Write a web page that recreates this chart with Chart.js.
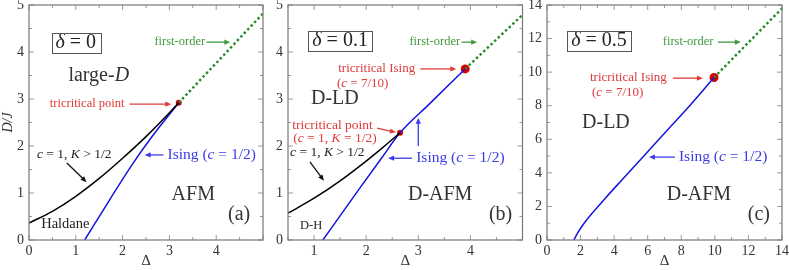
<!DOCTYPE html>
<html>
<head>
<meta charset="utf-8">
<script src="https://cdn.jsdelivr.net/npm/chart.js@4.4.1/dist/chart.umd.min.js"></script>
<style>
  body { margin: 0; background: #fff; }
  .panel { position: absolute; top: 0; height: 270px; }
</style>
</head>
<body>
<div class="panel" style="left:0px"><canvas id="chartA" width="267" height="270"></canvas></div>
<div class="panel" style="left:267px"><canvas id="chartB" width="260" height="270"></canvas></div>
<div class="panel" style="left:527px"><canvas id="chartC" width="262" height="270"></canvas></div>
<script>
// ---- panel (a): delta = 0 ----
const aKtX = [0, 0.5, 1, 1.5, 2, 2.5, 2.9, 3.2];
const aKtY = [0.36, 0.61, 0.93, 1.31, 1.74, 2.2, 2.6, 2.92];
const aIsingX = [1.19, 1.72, 2.2, 2.65, 3.2];
const aIsingY = [0, 0.85, 1.6, 2.23, 2.92];
const aFirstX = [3.2, 5];
const aFirstY = [2.92, 4.82];
const aCritX = [3.2];
const aCritY = [2.92];
const aCritR = [3];

// ---- panel (b): delta = 0.1 ----
const bKtX = [0.5, 1, 1.5, 2, 2.3, 2.65];
const bKtY = [0.57, 0.89, 1.26, 1.68, 1.95, 2.28];
const bIsingX = [1.17, 1.85, 2.3, 2.65, 3.2, 3.9];
const bIsingY = [0, 1.06, 1.75, 2.28, 2.88, 3.64];
const bFirstX = [3.9, 5];
const bFirstY = [3.64, 4.79];
const bCritX = [2.65, 3.9];
const bCritY = [2.28, 3.64];
const bCritR = [3, 4.5];

// ---- panel (c): delta = 0.5 ----
const cIsingX = [1.6, 1.8, 2.2, 2.8, 3.5, 4.5, 5.7, 7, 8.5, 9.95];
const cIsingY = [0, 0.38, 0.98, 1.72, 2.52, 3.62, 4.93, 6.36, 8.0, 9.68];
const cFirstX = [9.95, 14];
const cFirstY = [9.68, 13.8];
const cCritX = [9.95];
const cCritY = [9.68];
const cCritR = [4.5];

// tick labels
const aXLabels = [0, 1, 2, 3, 4];
const bXLabels = [1, 2, 3, 4];
const abYLabels = [0, 1, 2, 3, 4, 5];
const cLabels = [0, 2, 4, 6, 8, 10, 12, 14];

const fam = '"Liberation Serif", "DejaVu Serif", serif';
const GREEN = '#1f8a1f', GREEN_T = '#409a40';
const RED = '#d40000', RED_T = '#e03a3a';
const BLUE = '#1414e0', BLUE_T = '#3b3be6';

function pts(xs, ys) {
    return xs.map((x, i) => ({ x: x, y: ys[i] }));
}

function curve(xs, ys, color) {
    return { data: pts(xs, ys), borderColor: color, borderWidth: 1.5, pointRadius: 0,
             cubicInterpolationMode: 'monotone', fill: false };
}

// text with *italic* parts
function richText(ctx, str, x, y, size, color, align) {
    const parts = str.split('*');
    const fonts = parts.map((p, i) => (i % 2 ? 'italic ' : '') + size + 'px ' + fam);
    const widths = parts.map((p, i) => { ctx.font = fonts[i]; return ctx.measureText(p).width; });
    const total = widths.reduce((a, b) => a + b, 0);
    const left = align === 'center' ? x - total / 2 : align === 'right' ? x - total : x;
    let cx = left;
    ctx.fillStyle = color;
    ctx.textBaseline = 'middle';
    ctx.textAlign = 'left';
    parts.forEach((p, i) => { ctx.font = fonts[i]; ctx.fillText(p, cx, y); cx += widths[i]; });
    return { left: left, width: total };
}

function arrow(ctx, x1, y1, x2, y2, color) {
    const ang = Math.atan2(y2 - y1, x2 - x1);
    const hl = 6, hw = 2.6;
    ctx.strokeStyle = color;
    ctx.fillStyle = color;
    ctx.lineWidth = 1.3;
    ctx.beginPath();
    ctx.moveTo(x1, y1);
    ctx.lineTo(x2 - Math.cos(ang) * hl * 0.8, y2 - Math.sin(ang) * hl * 0.8);
    ctx.stroke();
    ctx.beginPath();
    ctx.moveTo(x2, y2);
    ctx.lineTo(x2 - Math.cos(ang) * hl - Math.sin(ang) * hw, y2 - Math.sin(ang) * hl + Math.cos(ang) * hw);
    ctx.lineTo(x2 - Math.cos(ang) * hl + Math.sin(ang) * hw, y2 - Math.sin(ang) * hl - Math.cos(ang) * hw);
    ctx.closePath();
    ctx.fill();
}

// frame with inward ticks plus the text labels
function decor(cfg) {
    return {
        id: 'decor',
        afterDatasetsDraw(chart) {
            const ctx = chart.ctx, a = chart.chartArea;
            const xs = chart.scales.x, ys = chart.scales.y;
            ctx.save();
            ctx.strokeStyle = '#999';
            ctx.lineWidth = 1;
            const steps = (min, max, st) => {
                const out = [];
                for (let v = Math.ceil(min / st) * st; v <= max + 1e-9; v += st) out.push(v);
                return out;
            };
            steps(xs.min, xs.max, cfg.minor[0]).forEach(v => {
                const px = xs.getPixelForValue(v);
                const len = Math.abs(v / cfg.major[0] - Math.round(v / cfg.major[0])) < 1e-6 ? 5 : 3;
                ctx.beginPath();
                ctx.moveTo(px, a.bottom); ctx.lineTo(px, a.bottom - len);
                ctx.moveTo(px, a.top); ctx.lineTo(px, a.top + len);
                ctx.stroke();
            });
            steps(ys.min, ys.max, cfg.minor[1]).forEach(v => {
                const py = ys.getPixelForValue(v);
                const len = Math.abs(v / cfg.major[1] - Math.round(v / cfg.major[1])) < 1e-6 ? 5 : 3;
                ctx.beginPath();
                ctx.moveTo(a.left, py); ctx.lineTo(a.left + len, py);
                ctx.moveTo(a.right, py); ctx.lineTo(a.right - len, py);
                ctx.stroke();
            });
            ctx.strokeStyle = '#777';
            ctx.lineWidth = 1.2;
            ctx.strokeRect(a.left, a.top, a.right - a.left, a.bottom - a.top);

            cfg.arrows.forEach(r => {
                arrow(ctx, xs.getPixelForValue(r[0]), ys.getPixelForValue(r[1]),
                      xs.getPixelForValue(r[2]), ys.getPixelForValue(r[3]), r[4]);
            });
            cfg.notes.forEach(n => {
                const px = xs.getPixelForValue(n.x), py = ys.getPixelForValue(n.y);
                const box = richText(ctx, n.t, px, py, n.size, n.color, n.align);
                if (n.box) {
                    ctx.strokeStyle = '#555';
                    ctx.lineWidth = 1;
                    ctx.strokeRect(Math.round(box.left - 4) + 0.5, Math.round(py - 10) + 0.5,
                                   Math.round(box.width + 8), 20);
                }
            });
            ctx.restore();
        }
    };
}

function makeChart(id, cfg) {
    return new Chart(document.getElementById(id), {
        type: 'line',
        data: {
            datasets: [
                ...cfg.lines,
                { data: pts(cfg.first[0], cfg.first[1]), borderColor: GREEN, borderWidth: 2.4,
                  borderDash: [2.4, 2.6], pointRadius: 0, fill: false },
                { data: pts(cfg.crit[0], cfg.crit[1]), showLine: false, pointRadius: cfg.crit[2],
                  pointBackgroundColor: RED, pointBorderColor: RED, pointBorderWidth: 0 }
            ]
        },
        options: {
            responsive: false,
            animation: false,
            layout: { padding: { top: 5, right: cfg.padRight, left: 0, bottom: 0 } },
            plugins: { legend: { display: false }, tooltip: { enabled: false } },
            scales: {
                x: {
                    type: 'linear', min: cfg.xRange[0], max: cfg.xRange[1],
                    afterBuildTicks: s => { s.ticks = cfg.xLabels.map(v => ({ value: v })); },
                    afterFit: s => { s.height = 30; s.paddingLeft = 0; s.paddingRight = 0; },
                    grid: { display: false, drawTicks: false },
                    border: { display: false },
                    ticks: { font: { family: fam, size: 14 }, color: '#333', padding: 3,
                             maxRotation: 0, autoSkip: false },
                    title: { display: true, text: 'Δ', font: { family: fam, size: 15 },
                             color: '#333', padding: 0 }
                },
                y: {
                    type: 'linear', min: cfg.yRange[0], max: cfg.yRange[1],
                    afterBuildTicks: s => { s.ticks = cfg.yLabels.map(v => ({ value: v })); },
                    afterFit: s => { s.width = cfg.yWidth; s.paddingTop = 0; s.paddingBottom = 0; },
                    grid: { display: false, drawTicks: false },
                    border: { display: false },
                    ticks: { font: { family: fam, size: 14 }, color: '#333', padding: 5, autoSkip: false },
                    title: { display: !!cfg.yTitle, text: cfg.yTitle || '',
                             font: { family: fam, size: 14, style: 'italic' }, color: '#333', padding: 0 }
                }
            }
        },
        plugins: [decor(cfg)]
    });
}

makeChart('chartA', {
    xRange: [0, 5], yRange: [0, 5], xLabels: aXLabels, yLabels: abYLabels,
    major: [1, 1], minor: [0.5, 0.5], yWidth: 29, padRight: 4, yTitle: 'D/J',
    lines: [curve(aKtX, aKtY, '#000'), curve(aIsingX, aIsingY, BLUE)],
    first: [aFirstX, aFirstY], crit: [aCritX, aCritY, aCritR],
    arrows: [
        [3.79, 4.21, 4.30, 4.21, GREEN_T],
        [2.15, 2.89, 3.04, 2.89, RED_T],
        [0.81, 1.64, 1.23, 1.23, '#111'],
        [2.87, 1.81, 2.47, 1.81, BLUE_T]
    ],
    notes: [
        { x: 1.0, y: 4.2, t: '*δ* = 0', size: 20, color: '#222', align: 'center', box: true },
        { x: 1.49, y: 3.49, t: 'large-*D*', size: 20, color: '#333', align: 'center' },
        { x: 2.68, y: 4.21, t: 'first-order', size: 12.5, color: GREEN_T, align: 'left' },
        { x: 2.04, y: 2.89, t: 'tricritical point', size: 12.5, color: RED_T, align: 'right' },
        { x: 0.17, y: 1.81, t: '*c* = 1, *K* > 1/2', size: 13.5, color: '#222', align: 'left' },
        { x: 2.96, y: 1.81, t: 'Ising (*c* = 1/2)', size: 15.5, color: BLUE_T, align: 'left' },
        { x: 3.51, y: 0.96, t: 'AFM', size: 20, color: '#333', align: 'center' },
        { x: 4.49, y: 0.53, t: '(a)', size: 20, color: '#333', align: 'center' },
        { x: 0.26, y: 0.34, t: 'Haldane', size: 14.5, color: '#222', align: 'left' }
    ]
});

makeChart('chartB', {
    xRange: [0.5, 5], yRange: [0, 5], xLabels: bXLabels, yLabels: abYLabels,
    major: [1, 1], minor: [0.5, 0.5], yWidth: 21, padRight: 4,
    lines: [curve(bKtX, bKtY, '#000'), curve(bIsingX, bIsingY, BLUE)],
    first: [bFirstX, bFirstY], crit: [bCritX, bCritY, bCritR],
    arrows: [
        [3.83, 4.21, 4.13, 4.21, GREEN_T],
        [3.04, 3.64, 3.73, 3.64, RED_T],
        [2.21, 2.38, 2.57, 2.29, RED_T],
        [3.0, 2.0, 3.0, 2.6, BLUE_T],
        [2.88, 1.74, 2.42, 1.74, BLUE_T],
        [0.92, 1.66, 1.19, 1.26, '#111']
    ],
    notes: [
        { x: 1.5, y: 4.23, t: '*δ* = 0.1', size: 20, color: '#222', align: 'center', box: true },
        { x: 2.83, y: 4.21, t: 'first-order', size: 12.5, color: GREEN_T, align: 'left' },
        { x: 2.94, y: 3.64, t: 'tricritical Ising', size: 13, color: RED_T, align: 'right' },
        { x: 1.44, y: 3.32, t: '(*c* = 7/10)', size: 13, color: RED_T, align: 'left' },
        { x: 1.4, y: 3.0, t: 'D-LD', size: 20, color: '#333', align: 'center' },
        { x: 0.58, y: 2.43, t: 'tricritical point', size: 13.5, color: RED_T, align: 'left' },
        { x: 0.6, y: 2.15, t: '(*c* = 1, *K* = 1/2)', size: 13.5, color: RED_T, align: 'left' },
        { x: 2.96, y: 1.74, t: 'Ising (*c* = 1/2)', size: 15.5, color: BLUE_T, align: 'left' },
        { x: 0.54, y: 1.87, t: '*c* = 1, *K* > 1/2', size: 13.5, color: '#222', align: 'left' },
        { x: 3.42, y: 0.96, t: 'D-AFM', size: 20, color: '#333', align: 'center' },
        { x: 4.58, y: 0.53, t: '(b)', size: 20, color: '#333', align: 'center' },
        { x: 0.73, y: 0.3, t: 'D-H', size: 12.5, color: '#222', align: 'left' }
    ]
});

makeChart('chartC', {
    xRange: [0, 14], yRange: [0, 14], xLabels: cLabels, yLabels: cLabels,
    major: [2, 2], minor: [1, 1], yWidth: 20, padRight: 7,
    lines: [curve(cIsingX, cIsingY, BLUE)],
    first: [cFirstX, cFirstY], crit: [cCritX, cCritY, cCritR],
    arrows: [
        [10.18, 11.79, 11.55, 11.79, GREEN_T],
        [7.5, 9.64, 9.29, 9.64, RED_T],
        [7.62, 4.94, 6.07, 4.94, BLUE_T]
    ],
    notes: [
        { x: 3.1, y: 11.85, t: '*δ* = 0.5', size: 20, color: '#222', align: 'center', box: true },
        { x: 6.9, y: 11.79, t: 'first-order', size: 12.5, color: GREEN_T, align: 'left' },
        { x: 7.14, y: 9.7, t: 'tricritical Ising', size: 13, color: RED_T, align: 'right' },
        { x: 2.68, y: 8.81, t: '(*c* = 7/10)', size: 13, color: RED_T, align: 'left' },
        { x: 3.51, y: 6.96, t: 'D-LD', size: 20, color: '#333', align: 'center' },
        { x: 7.86, y: 4.94, t: 'Ising (*c* = 1/2)', size: 15.5, color: BLUE_T, align: 'left' },
        { x: 9.05, y: 2.68, t: 'D-AFM', size: 20, color: '#333', align: 'center' },
        { x: 12.62, y: 1.49, t: '(c)', size: 20, color: '#333', align: 'center' }
    ]
});
</script>
</body>
</html>
